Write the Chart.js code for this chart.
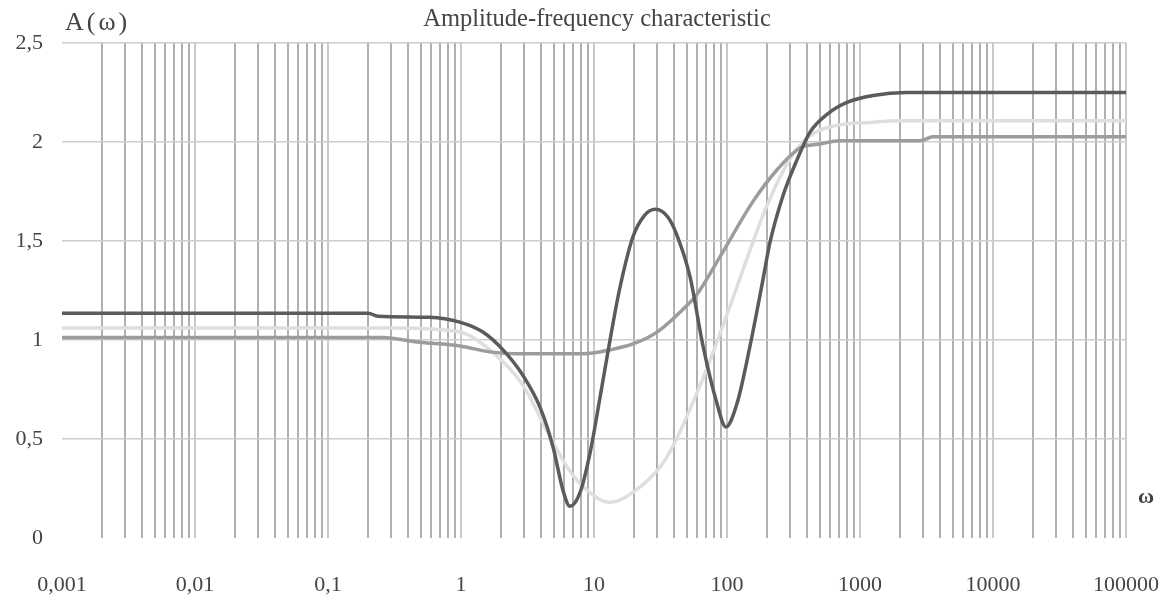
<!DOCTYPE html>
<html>
<head>
<meta charset="utf-8">
<script src="https://cdn.jsdelivr.net/npm/chart.js@4/dist/chart.umd.min.js"></script>
<style>
  html, body { margin: 0; padding: 0; background: #fff; }
  #wrap { width: 1164px; height: 602px; position: relative; }
</style>
</head>
<body>
<div id="wrap"><canvas id="afc" width="1164" height="602"></canvas></div>
<script>
// frequency points (omega) and amplitude A(omega)
const darkOmega = [0.001, 0.2, 0.24, 0.58, 0.98, 1.46, 2.07, 2.93, 3.93, 4.92, 5.85, 6.6, 7.86, 9.34, 11.1, 13.2, 15.5, 19.6, 24, 29, 36, 42, 52.7, 66, 84, 98, 119, 149, 187, 210, 264, 336, 421, 565, 798, 1253, 2250, 100000];
const darkA     = [1.135, 1.135, 1.12, 1.115, 1.09, 1.04, 0.95, 0.82, 0.66, 0.46, 0.24, 0.16, 0.23, 0.43, 0.71, 1.0, 1.25, 1.52, 1.63, 1.66, 1.62, 1.53, 1.32, 0.97, 0.68, 0.56, 0.68, 0.97, 1.31, 1.49, 1.73, 1.91, 2.05, 2.14, 2.2, 2.235, 2.25, 2.25];

const mediumOmega = [0.001, 0.26, 0.467, 0.98, 1.65, 2.64, 8.26, 13.2, 19.6, 29.8, 46.7, 59.4, 88.5, 157, 238, 354, 500, 708, 2825, 3540, 100000];
const mediumA     = [1.013, 1.013, 0.99, 0.97, 0.94, 0.93, 0.93, 0.95, 0.98, 1.04, 1.155, 1.23, 1.42, 1.70, 1.86, 1.97, 1.99, 2.006, 2.006, 2.026, 2.026];

const lightOmega = [0.001, 0.3, 0.98, 1.65, 2.93, 4.67, 6.27, 8.26, 13.2, 19.6, 35.4, 62.7, 84, 119, 141, 200, 283, 400, 627, 1253, 2000, 100000];
const lightA     = [1.06, 1.06, 1.04, 0.95, 0.77, 0.51, 0.36, 0.26, 0.18, 0.23, 0.41, 0.77, 0.99, 1.27, 1.41, 1.68, 1.89, 2.02, 2.08, 2.10, 2.107, 2.107];

const xDecades = [0.001, 0.01, 0.1, 1, 10, 100, 1000, 10000, 100000];
const xTickLabels = ['0,001', '0,01', '0,1', '1', '10', '100', '1000', '10000', '100000'];
const yTicks = [0, 0.5, 1, 1.5, 2, 2.5];
const yTickLabels = ['0', '0,5', '1', '1,5', '2', '2,5'];

// every 1..9 x 10^k line of the log grid
const xGrid = [];
for (let k = 0; k < xDecades.length; k++) {
  for (let m = 1; m <= 9; m++) {
    if (k === xDecades.length - 1 && m > 1) break;
    xGrid.push(Number((m * xDecades[k]).toPrecision(10)));
  }
}

function toPoints(xs, ys) {
  return xs.map((x, i) => ({ x: x, y: ys[i] }));
}

const FONT = '"Liberation Serif", "Times New Roman", serif';
Chart.defaults.font.family = FONT;
Chart.defaults.font.size = 22;
Chart.defaults.color = '#444';

// free texts: title, axis names
const labelsPlugin = {
  id: 'afcLabels',
  afterDraw(chart) {
    const c = chart.ctx;
    c.save();
    c.fillStyle = '#444';
    c.textBaseline = 'middle';
    c.textAlign = 'center';
    c.font = '24.5px ' + FONT;
    c.fillText('Amplitude-frequency characteristic', 597, 20);
    c.textAlign = 'left';
    c.font = '26px ' + FONT;
    c.letterSpacing = '3px';
    c.fillText('A(ω)', 65, 23);
    c.letterSpacing = '0px';
    c.font = 'bold 22px ' + FONT;
    c.fillText('ω', 1138, 497);
    c.restore();
  }
};

new Chart(document.getElementById('afc'), {
  type: 'line',
  data: {
    datasets: [
      {
        label: 'A1',
        data: toPoints(darkOmega, darkA),
        borderColor: '#5b5b5b',
        borderWidth: 3.5,
        pointRadius: 0,
        cubicInterpolationMode: 'monotone',
      },
      {
        label: 'A2',
        data: toPoints(mediumOmega, mediumA),
        borderColor: '#9c9c9c',
        borderWidth: 3.5,
        pointRadius: 0,
        cubicInterpolationMode: 'monotone',
      },
      {
        label: 'A3',
        data: toPoints(lightOmega, lightA),
        borderColor: '#dedede',
        borderWidth: 3.5,
        pointRadius: 0,
        cubicInterpolationMode: 'monotone',
      },
    ],
  },
  options: {
    responsive: false,
    animation: false,
    layout: { padding: { top: 43, right: 38, bottom: 0, left: 0 } },
    plugins: {
      legend: { display: false },
      tooltip: { enabled: false },
    },
    scales: {
      x: {
        type: 'logarithmic',
        min: 0.001,
        max: 100000,
        border: { display: false },
        afterBuildTicks: (scale) => { scale.ticks = xGrid.map(v => ({ value: v })); },
        afterFit: (scale) => {
          scale.height = 64;
          scale.paddingLeft = 0;
          scale.paddingRight = 0;
        },
        grid: {
          drawTicks: false,
          lineWidth: 2,
          color: (ctx) => {
            const v = ctx.tick ? ctx.tick.value : 0;
            if (v === 0.001) return 'rgba(0,0,0,0)';
            return xDecades.includes(v) ? '#c9c9c9' : '#b0b0b0';
          },
        },
        ticks: {
          autoSkip: false,
          maxRotation: 0,
          padding: 34,
          callback: (value) => {
            const i = xDecades.indexOf(value);
            return i >= 0 ? xTickLabels[i] : '';
          },
        },
      },
      y: {
        min: 0,
        max: 2.5,
        border: { display: false },
        afterBuildTicks: (scale) => { scale.ticks = yTicks.map(v => ({ value: v })); },
        afterFit: (scale) => {
          scale.width = 62;
          scale.paddingTop = 0;
          scale.paddingBottom = 0;
        },
        grid: {
          drawTicks: false,
          lineWidth: 1.5,
          color: (ctx) => (ctx.tick && ctx.tick.value === 0 ? 'rgba(0,0,0,0)' : '#cdcdcd'),
        },
        ticks: {
          padding: 19,
          callback: (value) => {
            const i = yTicks.indexOf(value);
            return i >= 0 ? yTickLabels[i] : '';
          },
        },
      },
    },
  },
  plugins: [labelsPlugin],
});
</script>
</body>
</html>
